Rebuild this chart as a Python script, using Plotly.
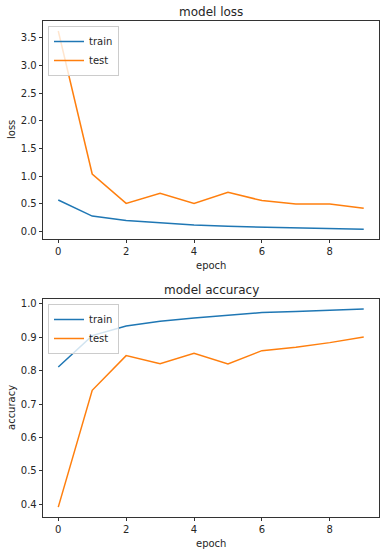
import plotly.graph_objects as go

epochs = list(range(10))
loss_train = [0.57, 0.28, 0.20, 0.155, 0.12, 0.095, 0.08, 0.065, 0.055, 0.045]
loss_test = [3.62, 1.04, 0.51, 0.69, 0.51, 0.71, 0.56, 0.50, 0.50, 0.42]
acc_train = [0.811, 0.905, 0.934, 0.948, 0.958, 0.967, 0.974, 0.977, 0.982, 0.985]
acc_test = [0.391, 0.741, 0.845, 0.821, 0.852, 0.820, 0.860, 0.870, 0.884, 0.901]

BLUE = "#1f77b4"
ORANGE = "#ff7f0e"
FONT = "DejaVu Sans"
TXT = "#262626"

fig = go.Figure()
fig.add_trace(go.Scatter(x=epochs, y=loss_train, mode="lines", name="train",
                         line=dict(color=BLUE, width=1.5), xaxis="x", yaxis="y", legend="legend"))
fig.add_trace(go.Scatter(x=epochs, y=loss_test, mode="lines", name="test",
                         line=dict(color=ORANGE, width=1.5), xaxis="x", yaxis="y", legend="legend"))
fig.add_trace(go.Scatter(x=epochs, y=acc_train, mode="lines", name="train",
                         line=dict(color=BLUE, width=1.5), xaxis="x2", yaxis="y2", legend="legend2"))
fig.add_trace(go.Scatter(x=epochs, y=acc_test, mode="lines", name="test",
                         line=dict(color=ORANGE, width=1.5), xaxis="x2", yaxis="y2", legend="legend2"))

W, H = 384, 555
L, R, T, B = 43, 5, 21, 38
ph = H - T - B
pw = W - L - R


def py(pix):
    return (H - B - pix) / ph


def px(pix):
    return (pix - L) / pw


top_dom = [py(239), 1.0]
bot_dom = [0.0, py(299)]

axis_common = dict(showline=True, linecolor="black", linewidth=0.8, mirror=True,
                   ticks="outside", ticklen=3.5, tickwidth=0.8, tickcolor="black",
                   showgrid=False, zeroline=False, automargin=False,
                   tickfont=dict(family=FONT, size=10, color=TXT))


def ann(text, x, y, size=10, angle=0, xanchor="center", yanchor="middle"):
    return dict(text=text, x=x, y=y, xref="paper", yref="paper", xanchor=xanchor,
                yanchor=yanchor, showarrow=False, textangle=angle,
                font=dict(family=FONT, size=size, color=TXT))


leg_common = dict(xanchor="left", yanchor="top",
                  bgcolor="rgba(255,255,255,0.8)", bordercolor="#cccccc", borderwidth=1,
                  font=dict(family=FONT, size=10, color=TXT), tracegroupgap=0, itemwidth=30)

fig.update_layout(
    width=W, height=H,
    margin=dict(l=L, r=R, t=T, b=B, autoexpand=False),
    paper_bgcolor="white", plot_bgcolor="white",
    font=dict(family=FONT, size=10, color=TXT),
    showlegend=True,
    hovermode=False,
    xaxis=dict(domain=[0, 1], anchor="y", range=[-0.45, 9.45], tickvals=[0, 2, 4, 6, 8],
               **axis_common),
    yaxis=dict(domain=top_dom, anchor="x", range=[-0.133, 3.80],
               tickvals=[0, 0.5, 1.0, 1.5, 2.0, 2.5, 3.0, 3.5], tickformat=".1f",
               **axis_common),
    xaxis2=dict(domain=[0, 1], anchor="y2", range=[-0.45, 9.45], tickvals=[0, 2, 4, 6, 8],
                **axis_common),
    yaxis2=dict(domain=bot_dom, anchor="x2", range=[0.3613, 1.0148],
                tickvals=[0.4, 0.5, 0.6, 0.7, 0.8, 0.9, 1.0], tickformat=".1f",
                **axis_common),
    legend=dict(x=px(48), y=py(26), **leg_common),
    legend2=dict(x=px(48), y=py(304), **leg_common),
    annotations=[
        ann("model loss", 0.5, py(12), size=12),
        ann("model accuracy", 0.5, py(290), size=12),
        ann("epoch", 0.5, py(265)),
        ann("epoch", 0.5, py(543)),
        ann("loss", px(11), py(130), angle=-90),
        ann("accuracy", px(11), py(408), angle=-90),
    ],
)

fig.write_html("out.html",
               config={"displayModeBar": False, "staticPlot": True},
               post_script="document.body.style.margin='0';document.body.style.overflow='hidden';")
